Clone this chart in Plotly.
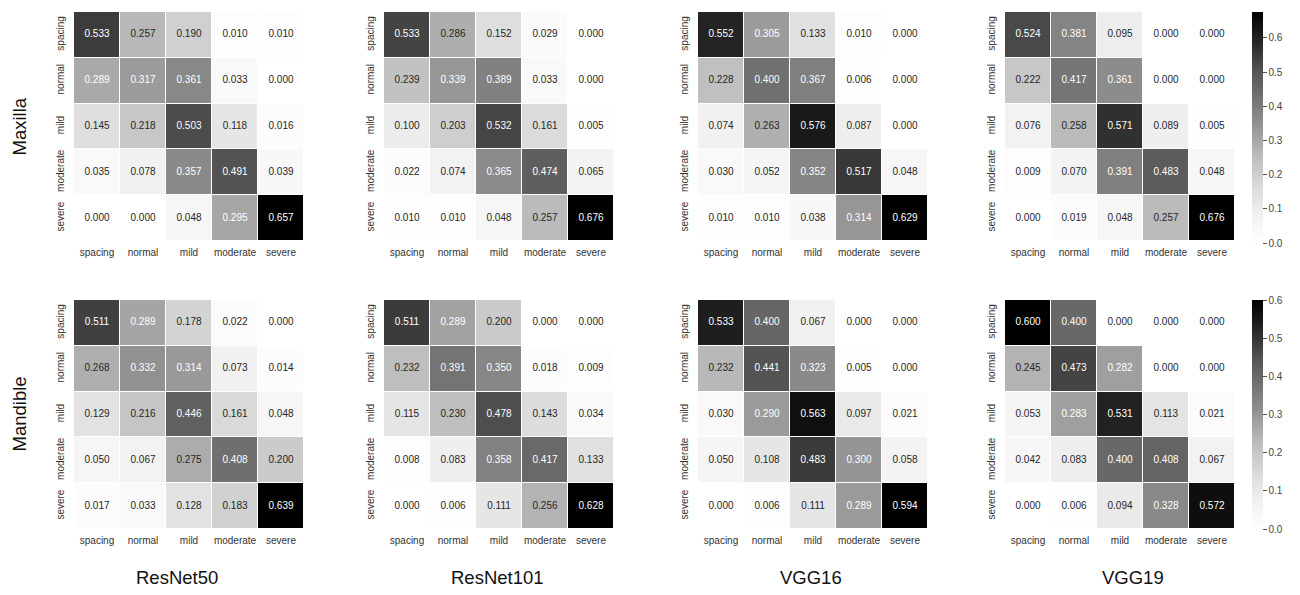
import numpy as np
import plotly.graph_objects as go

# Confusion matrices (rows = true class, columns = predicted class)
classes = ["spacing", "normal", "mild", "moderate", "severe"]
models = ["ResNet50", "ResNet101", "VGG16", "VGG19"]
jaws = ["Maxilla", "Mandible"]

maxilla_resnet50 = [
    [0.533, 0.257, 0.190, 0.010, 0.010],
    [0.289, 0.317, 0.361, 0.033, 0.000],
    [0.145, 0.218, 0.503, 0.118, 0.016],
    [0.035, 0.078, 0.357, 0.491, 0.039],
    [0.000, 0.000, 0.048, 0.295, 0.657],
]
maxilla_resnet101 = [
    [0.533, 0.286, 0.152, 0.029, 0.000],
    [0.239, 0.339, 0.389, 0.033, 0.000],
    [0.100, 0.203, 0.532, 0.161, 0.005],
    [0.022, 0.074, 0.365, 0.474, 0.065],
    [0.010, 0.010, 0.048, 0.257, 0.676],
]
maxilla_vgg16 = [
    [0.552, 0.305, 0.133, 0.010, 0.000],
    [0.228, 0.400, 0.367, 0.006, 0.000],
    [0.074, 0.263, 0.576, 0.087, 0.000],
    [0.030, 0.052, 0.352, 0.517, 0.048],
    [0.010, 0.010, 0.038, 0.314, 0.629],
]
maxilla_vgg19 = [
    [0.524, 0.381, 0.095, 0.000, 0.000],
    [0.222, 0.417, 0.361, 0.000, 0.000],
    [0.076, 0.258, 0.571, 0.089, 0.005],
    [0.009, 0.070, 0.391, 0.483, 0.048],
    [0.000, 0.019, 0.048, 0.257, 0.676],
]
mandible_resnet50 = [
    [0.511, 0.289, 0.178, 0.022, 0.000],
    [0.268, 0.332, 0.314, 0.073, 0.014],
    [0.129, 0.216, 0.446, 0.161, 0.048],
    [0.050, 0.067, 0.275, 0.408, 0.200],
    [0.017, 0.033, 0.128, 0.183, 0.639],
]
mandible_resnet101 = [
    [0.511, 0.289, 0.200, 0.000, 0.000],
    [0.232, 0.391, 0.350, 0.018, 0.009],
    [0.115, 0.230, 0.478, 0.143, 0.034],
    [0.008, 0.083, 0.358, 0.417, 0.133],
    [0.000, 0.006, 0.111, 0.256, 0.628],
]
mandible_vgg16 = [
    [0.533, 0.400, 0.067, 0.000, 0.000],
    [0.232, 0.441, 0.323, 0.005, 0.000],
    [0.030, 0.290, 0.563, 0.097, 0.021],
    [0.050, 0.108, 0.483, 0.300, 0.058],
    [0.000, 0.006, 0.111, 0.289, 0.594],
]
mandible_vgg19 = [
    [0.600, 0.400, 0.000, 0.000, 0.000],
    [0.245, 0.473, 0.282, 0.000, 0.000],
    [0.053, 0.283, 0.531, 0.113, 0.021],
    [0.042, 0.083, 0.400, 0.408, 0.067],
    [0.000, 0.006, 0.094, 0.328, 0.572],
]

matrices = [
    [maxilla_resnet50, maxilla_resnet101, maxilla_vgg16, maxilla_vgg19],
    [mandible_resnet50, mandible_resnet101, mandible_vgg16, mandible_vgg19],
]

# Greys sequential palette (white -> black)
grey_levels = [1.0, 0.941, 0.851, 0.741, 0.588, 0.451, 0.322, 0.145, 0.0]
grey_stops = np.linspace(0, 1, len(grey_levels))
colorscale = [[float(s), f"rgb({round(g*255)},{round(g*255)},{round(g*255)})"]
              for s, g in zip(grey_stops, grey_levels)]


def text_colour(value, vmax):
    """Dark text on light cells, white text on dark cells (by luminance)."""
    g = np.interp(value / vmax, grey_stops, grey_levels)
    lin = g / 12.92 if g <= 0.03928 else ((g + 0.055) / 1.055) ** 2.4
    return "#262626" if lin > 0.408 else "#ffffff"


W, H = 1300, 595
col_left = [74, 384, 698, 1005]
cell_w = 230
row_top = [12, 300]
cell_h = 229
title_x = [177, 497, 811, 1133]

fig = go.Figure()
layout_axes = {}
font = "Liberation Sans, Arial, sans-serif"

for r in range(2):
    for c in range(4):
        k = r * 4 + c + 1
        xa = "x" if k == 1 else f"x{k}"
        ya = "y" if k == 1 else f"y{k}"
        z = np.array(matrices[r][c])
        vmax = float(z.max())
        show_cb = c == 3
        fig.add_trace(go.Heatmap(
            z=z, x=classes, y=classes, xaxis=xa, yaxis=ya,
            zmin=0, zmax=vmax, colorscale=colorscale,
            xgap=1, ygap=1, showscale=show_cb,
            colorbar=dict(
                x=1252 / W, xanchor="left", xpad=0,
                y=1 - row_top[r] / H, yanchor="top",
                len=(231 if r == 0 else 229) / H, lenmode="fraction",
                thickness=11, outlinewidth=0, ypad=0,
                tickvals=[0, 0.1, 0.2, 0.3, 0.4, 0.5, 0.6],
                ticktext=["0.0", "0.1", "0.2", "0.3", "0.4", "0.5", "0.6"],
                ticks="outside", ticklen=4, tickcolor="#555",
                tickfont=dict(family=font, size=10, color="#444"),
            ),
            hoverinfo="skip",
        ))
        xs, ys, txt, cols = [], [], [], []
        for i, yc in enumerate(classes):
            for j, xc in enumerate(classes):
                xs.append(xc)
                ys.append(yc)
                txt.append(f"{z[i, j]:.3f}")
                cols.append(text_colour(z[i, j], vmax))
        fig.add_trace(go.Scatter(
            x=xs, y=ys, text=txt, mode="text", xaxis=xa, yaxis=ya,
            textfont=dict(family=font, size=10, color=cols),
            showlegend=False, hoverinfo="skip",
        ))
        xkey = "xaxis" if k == 1 else f"xaxis{k}"
        ykey = "yaxis" if k == 1 else f"yaxis{k}"
        layout_axes[xkey] = dict(
            domain=[col_left[c] / W, (col_left[c] + cell_w) / W],
            anchor=ya, type="category", categoryorder="array", categoryarray=classes,
            showgrid=False, zeroline=False, showline=False, ticks="",
            ticklabelstandoff=4,
            tickfont=dict(family=font, size=10, color="#333"),
            fixedrange=True,
        )
        layout_axes[ykey] = dict(
            domain=[1 - (row_top[r] + cell_h) / H, 1 - row_top[r] / H],
            anchor=xa, type="category", categoryorder="array", categoryarray=classes,
            autorange="reversed", showgrid=False, zeroline=False, showline=False,
            ticks="", tickangle=-90, ticklabelstandoff=7,
            tickfont=dict(family=font, size=10, color="#333"),
            fixedrange=True,
        )

annotations = []
for r, jaw in enumerate(jaws):
    annotations.append(dict(
        text=jaw, x=19 / W, y=1 - (row_top[r] + cell_h / 2) / H,
        xref="paper", yref="paper", showarrow=False, textangle=-90,
        font=dict(family=font, size=18.5, color="#111"),
        xanchor="center", yanchor="middle",
    ))
for c, model in enumerate(models):
    annotations.append(dict(
        text=model, x=title_x[c] / W, y=1 - 577 / H,
        xref="paper", yref="paper", showarrow=False,
        font=dict(family=font, size=18.5, color="#111"),
        xanchor="center", yanchor="middle",
    ))

fig.update_layout(
    width=W, height=H,
    margin=dict(l=0, r=0, t=0, b=0),
    paper_bgcolor="white", plot_bgcolor="white",
    showlegend=False,
    annotations=annotations,
    **layout_axes,
)

fig.write_html("out.html")
